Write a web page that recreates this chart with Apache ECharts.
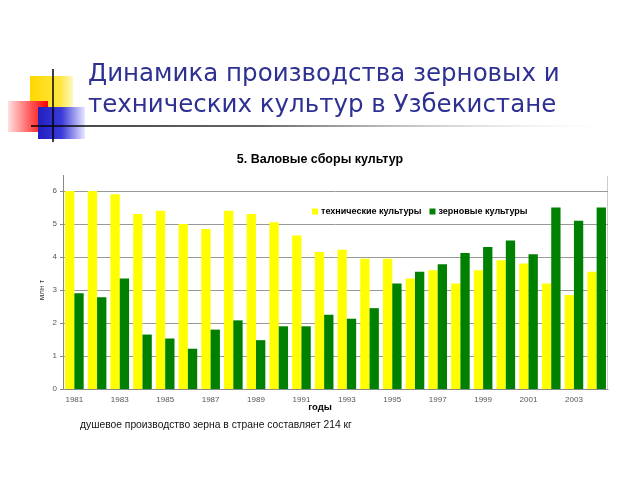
<!DOCTYPE html>
<html><head><meta charset="utf-8">
<script src="https://cdn.jsdelivr.net/npm/echarts@6/dist/echarts.min.js"></script>
<style>html,body{margin:0;padding:0;background:#fff}#c{width:640px;height:480px}</style>
</head><body><div id="c"></div>
<script>
var years = ['1981','1982','1983','1984','1985','1986','1987','1988','1989','1990','1991','1992','1993','1994','1995','1996','1997','1998','1999','2000','2001','2002','2003','2004'];
var technical = [6.0,6.0,5.9,5.3,5.4,5.0,4.85,5.4,5.3,5.05,4.65,4.15,4.22,3.95,3.95,3.35,3.6,3.2,3.6,3.9,3.8,3.2,2.85,3.55];
var grain = [2.9,2.78,3.35,1.65,1.53,1.22,1.8,2.08,1.48,1.9,1.9,2.25,2.13,2.45,3.2,3.55,3.78,4.12,4.3,4.5,4.08,5.5,5.1,5.5];
var yTicks = [0,1,2,3,4,5,6];

var chart = echarts.init(document.getElementById('c'));
var font = 'Liberation Sans, Arial, sans-serif';
chart.setOption({
  backgroundColor:'#fff',
  animation:false,
  title:[
    {text:'Динамика производства зерновых и\nтехнических культур в Узбекистане', left:83, top:54,
     textStyle:{fontFamily:'DejaVu Sans, Tahoma, sans-serif', fontSize:24.5, fontWeight:'normal', color:'#2E3192', lineHeight:31}},
    {text:'5. Валовые сборы культур', left:'center', top:148, textStyle:{fontFamily:font, fontSize:12.5, fontWeight:'bold', color:'#000'}}
  ],
  graphic:[
    {type:'rect', shape:{x:30,y:76,width:43,height:39}, style:{fill:new echarts.graphic.LinearGradient(0,0,1,0,[{offset:0,color:'#FFD700'},{offset:0.7,color:'#FFE640'},{offset:1,color:'#FFF8C0'}])}, z:1},
    {type:'rect', shape:{x:8,y:101,width:40,height:31}, style:{fill:new echarts.graphic.LinearGradient(0,0,1,0,[{offset:0,color:'#FFE0E0'},{offset:0.6,color:'#FF5050'},{offset:1,color:'#FF0000'}])}, z:2},
    {type:'rect', shape:{x:38,y:107,width:47,height:32}, style:{fill:new echarts.graphic.LinearGradient(0,0,1,0,[{offset:0,color:'#2020C0'},{offset:0.5,color:'#3A3AD8'},{offset:1,color:'#E8E8FF'}])}, z:3},
    {type:'line', shape:{x1:53,y1:69,x2:53,y2:142}, style:{stroke:'#000',lineWidth:1.5}, z:4},
    {type:'line', shape:{x1:31,y1:126,x2:600,y2:126}, style:{stroke:new echarts.graphic.LinearGradient(0,0,1,0,[{offset:0,color:'#000'},{offset:0.4,color:'#333'},{offset:1,color:'rgba(200,200,200,0)'}]),lineWidth:1.5}, z:4},
    {type:'line', shape:{x1:63.5,y1:175,x2:63.5,y2:191}, style:{stroke:'#888',lineWidth:1}},
    {type:'line', shape:{x1:607.5,y1:176,x2:607.5,y2:389}, style:{stroke:'#ccc',lineWidth:1}},
    {type:'text', left:'center', top:402, style:{text:'годы', font:'bold 9.5px '+font, fill:'#000'}},
    {type:'text', left:80, top:420, style:{text:'душевое производство зерна в стране составляет 214 кг', font:'10.3px '+font, fill:'#111'}}
  ],
  legend:{left:307, top:202, itemWidth:6, itemHeight:6, itemGap:8, icon:'rect',
    textStyle:{fontFamily:font, fontSize:9, fontWeight:'bold', color:'#000', padding:[0,0,0,-2]},
    data:['технические культуры','зерновые культуры']},
  grid:{left:63, right:32, top:191, bottom:91},
  xAxis:{type:'category', data:years,
    axisLine:{lineStyle:{color:'#888'}},
    axisTick:{interval:1, length:3, lineStyle:{color:'#888'}},
    axisLabel:{interval:1, color:'#555', fontFamily:font, fontSize:8, margin:7}},
  yAxis:{type:'value', min:0, max:6, interval:1,
    name:'млн т', nameLocation:'middle', nameGap:17, nameRotate:90, nameMoveOverlap:false,
    nameTextStyle:{fontFamily:font, fontSize:8, color:'#333'},
    axisLine:{show:true, lineStyle:{color:'#888'}},
    axisTick:{show:true, length:3, lineStyle:{color:'#888'}},
    axisLabel:{color:'#555', fontFamily:font, fontSize:8, margin:6, formatter:function(v){return yTicks.indexOf(v)>=0?String(v):'';}},
    splitLine:{lineStyle:{color:'#999'}}},
  series:[
    {name:'технические культуры', type:'bar', data:technical, itemStyle:{color:'#FFFF00'}, barGap:'0%', barCategoryGap:'18%'},
    {name:'зерновые культуры', type:'bar', data:grain, itemStyle:{color:'#008000'}, barGap:'0%', barCategoryGap:'18%'}
  ]
});
</script></body></html>
